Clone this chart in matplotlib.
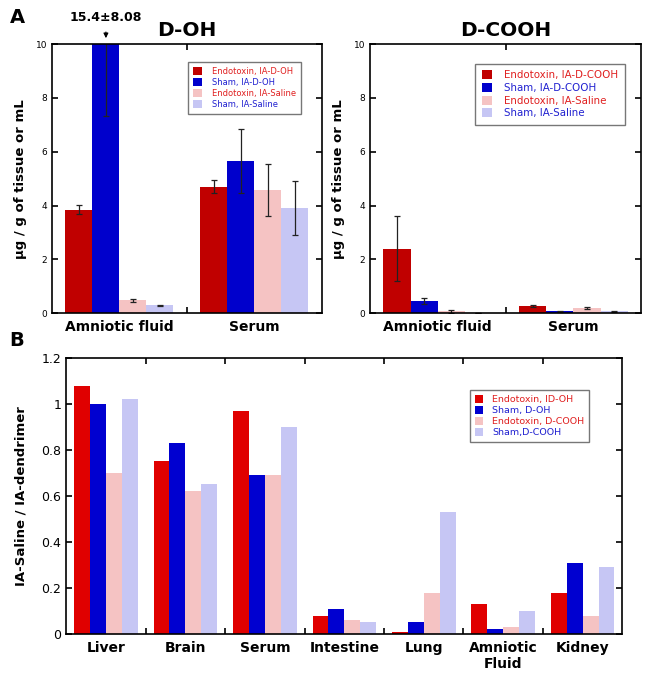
import matplotlib.pyplot as plt
import numpy as np

# panel A data (ug / g of tissue or mL)
a_groups = ['Amniotic fluid', 'Serum']
doh_labels = ['Endotoxin, IA-D-OH', 'Sham, IA-D-OH', 'Endotoxin, IA-Saline', 'Sham, IA-Saline']
doh_amniotic = [3.85, 15.4, 0.48, 0.30]
doh_amniotic_err = [0.18, 8.08, 0.05, 0.02]
doh_serum = [4.70, 5.65, 4.57, 3.90]
doh_serum_err = [0.25, 1.20, 0.97, 1.00]

dcooh_labels = ['Endotoxin, IA-D-COOH', 'Sham, IA-D-COOH', 'Endotoxin, IA-Saline', 'Sham, IA-Saline']
dcooh_amniotic = [2.40, 0.45, 0.07, 0.01]
dcooh_amniotic_err = [1.21, 0.10, 0.05, 0.0]
dcooh_serum = [0.27, 0.07, 0.20, 0.07]
dcooh_serum_err = [0.03, 0.03, 0.05, 0.03]

# panel B data (ratio)
b_groups = ['Liver', 'Brain', 'Serum', 'Intestine', 'Lung', 'Amniotic\nFluid', 'Kidney']
b_labels = ['Endotoxin, ID-OH', 'Sham, D-OH', 'Endotoxin, D-COOH', 'Sham,D-COOH']
endo_doh = [1.08, 0.75, 0.97, 0.08, 0.01, 0.13, 0.18]
sham_doh = [1.00, 0.83, 0.69, 0.11, 0.05, 0.02, 0.31]
endo_dcooh = [0.70, 0.62, 0.69, 0.06, 0.18, 0.03, 0.08]
sham_dcooh = [1.02, 0.65, 0.90, 0.05, 0.53, 0.10, 0.29]

colA = ['#C00000', '#0000CC', '#F5C3C3', '#C6C6F4']
colB = ['#E00000', '#0000D0', '#F5C3C3', '#C6C6F4']
txtcol = ['#E02020', '#2020D0', '#E02020', '#2020D0']

W = 0.2
fig = plt.figure(figsize=(6.49, 6.78), dpi=100)


def style_axes(ax, ngroups, names, tick_fs, cat_fs):
    ax.set_xlim(0, ngroups)
    ax.set_xticks(np.arange(1, ngroups))
    ax.set_xticklabels([])
    ax.set_xticks(np.arange(ngroups) + 0.5, minor=True)
    ax.set_xticklabels(names, minor=True, fontsize=cat_fs, fontweight='bold')
    ax.tick_params(axis='x', which='minor', length=0, pad=5)
    ax.tick_params(which='major', direction='in', top=True, right=True, length=4, width=1.2,
                   labelsize=tick_fs)
    for s in ax.spines.values():
        s.set_linewidth(1.2)


def panel_a(ax, amn, amn_err, ser, ser_err, labels, title, legfs, legloc):
    for i in range(4):
        ax.bar([0.1 + W * (i + 0.5), 1.1 + W * (i + 0.5)], [amn[i], ser[i]], W,
               yerr=[amn_err[i], ser_err[i]], color=colA[i], label=labels[i],
               error_kw=dict(ecolor='#222222', elinewidth=0.9, capsize=2, capthick=0.9))
    ax.set_ylim(0, 10)
    ax.set_yticks([0, 2, 4, 6, 8, 10])
    ax.set_ylabel('µg / g of tissue or mL', fontsize=9.5, fontweight='bold', labelpad=6)
    style_axes(ax, 2, a_groups, 6.5, 10)
    ax.set_title(title, fontsize=14.5, fontweight='bold', pad=6)
    leg = ax.legend(loc='upper left', bbox_to_anchor=legloc, fontsize=legfs, frameon=True,
                    fancybox=False, edgecolor='#555555', handlelength=1.0, handleheight=1.0,
                    handletextpad=1.2, borderpad=0.6, labelspacing=0.25)
    leg.get_frame().set_linewidth(1.0)
    for t, c in zip(leg.get_texts(), txtcol):
        t.set_color(c)


ax1 = fig.add_axes([0.080, 0.538, 0.416, 0.397])
panel_a(ax1, doh_amniotic, doh_amniotic_err, doh_serum, doh_serum_err, doh_labels, 'D-OH',
        6.0, (0.49, 0.95))
# clipped Sham bar: real value written above
ax1.annotate('15.4±8.08', xy=(0.4, 10.22), xytext=(0.4, 11.0), ha='center', va='center',
             fontsize=9, fontweight='bold', annotation_clip=False,
             arrowprops=dict(arrowstyle='-|>', color='black', lw=0.8, mutation_scale=7,
                             shrinkA=4, shrinkB=0))

ax2 = fig.add_axes([0.570, 0.538, 0.418, 0.397])
panel_a(ax2, dcooh_amniotic, dcooh_amniotic_err, dcooh_serum, dcooh_serum_err, dcooh_labels,
        'D-COOH', 7.4, (0.37, 0.945))

ax3 = fig.add_axes([0.102, 0.065, 0.857, 0.407])
x = np.arange(len(b_groups))
for i, (vals, lab) in enumerate(zip([endo_doh, sham_doh, endo_dcooh, sham_dcooh], b_labels)):
    ax3.bar(x + 0.1 + W * (i + 0.5), vals, W, color=colB[i], label=lab)
ax3.set_ylim(0, 1.2)
ax3.set_yticks([0, 0.2, 0.4, 0.6, 0.8, 1.0, 1.2])
ax3.set_yticklabels(['0', '0.2', '0.4', '0.6', '0.8', '1', '1.2'])
ax3.set_ylabel('IA-Saline / IA-dendrimer', fontsize=9.5, fontweight='bold', labelpad=10)
style_axes(ax3, 7, b_groups, 9, 10)
leg = ax3.legend(loc='upper left', bbox_to_anchor=(0.718, 0.9), fontsize=6.8, frameon=True,
                 fancybox=False, edgecolor='#555555', handlelength=0.8, handleheight=1.0,
                 handletextpad=1.0, borderpad=0.5, labelspacing=0.15)
leg.get_frame().set_linewidth(1.0)
for t, c in zip(leg.get_texts(), txtcol):
    t.set_color(c)

fig.text(0.015, 0.974, 'A', fontsize=14, fontweight='bold', va='center')
fig.text(0.015, 0.498, 'B', fontsize=14, fontweight='bold', va='center')

fig.savefig('out.png', dpi=100)
